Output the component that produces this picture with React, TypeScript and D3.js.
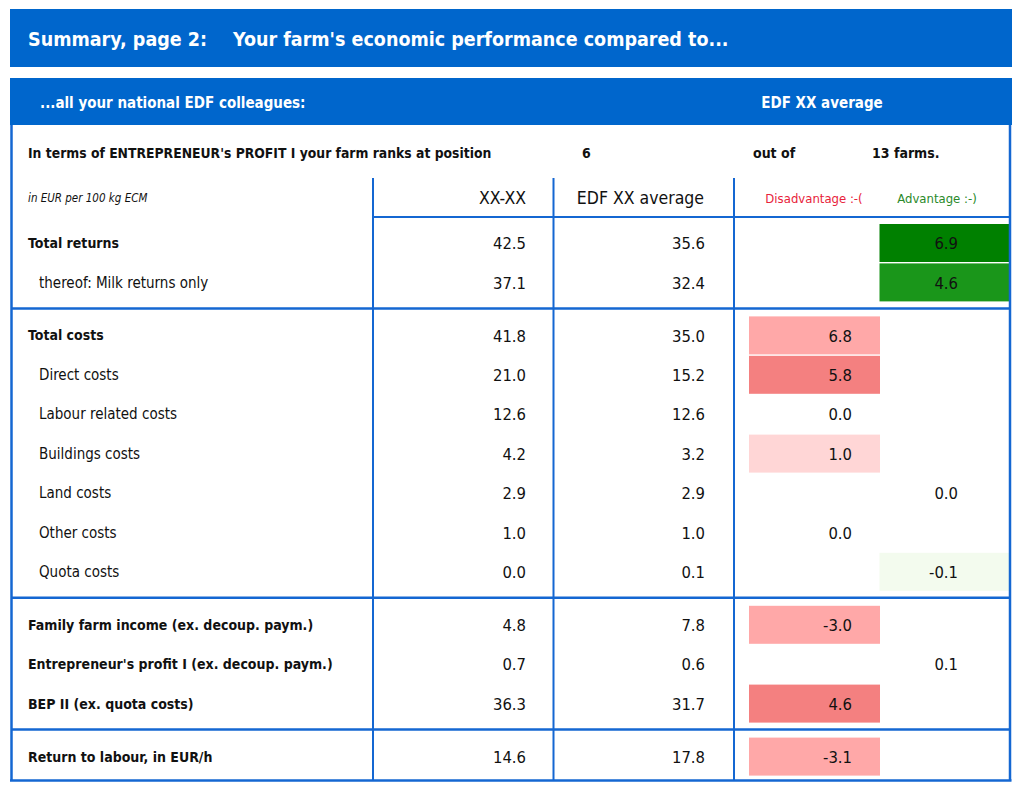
import React from "react";
import * as d3 from "d3";

const TITLE_A = "Summary, page 2:";
const TITLE_B = "Your farm's economic performance compared to...";
const SUBTITLE = "...all your national EDF colleagues:";
const SUB_RIGHT = "EDF XX average";
const RANK_TEXT = "In terms of ENTREPRENEUR's PROFIT I your farm ranks at position";
const RANK_POS = 6;
const RANK_TOTAL = 13;
const UNIT = "in EUR per 100 kg ECM";
const COL_HEADERS = ["XX-XX", "EDF XX average", "Disadvantage :-(", "Advantage :-)"];

const ROW_LABELS = [
  "Total returns",
  "thereof: Milk returns only",
  "Total costs",
  "Direct costs",
  "Labour related costs",
  "Buildings costs",
  "Land costs",
  "Other costs",
  "Quota costs",
  "Family farm income (ex. decoup. paym.)",
  "Entrepreneur's profit I (ex. decoup. paym.)",
  "BEP II (ex. quota costs)",
  "Return to labour, in EUR/h",
];
const ROW_GROUP = [0, 0, 1, 1, 1, 1, 1, 1, 1, 2, 2, 2, 3];
const ROW_SUB = [false, true, false, true, true, true, true, true, true, false, false, false, false];
const FARM_VALUES = [42.5, 37.1, 41.8, 21.0, 12.6, 4.2, 2.9, 1.0, 0.0, 4.8, 0.7, 36.3, 14.6];
const AVG_VALUES = [35.6, 32.4, 35.0, 15.2, 12.6, 3.2, 2.9, 1.0, 0.1, 7.8, 0.6, 31.7, 17.8];
const DIFF_VALUES = [6.9, 4.6, 6.8, 5.8, 0.0, 1.0, 0.0, 0.0, -0.1, -3.0, 0.1, 4.6, -3.1];
const DIFF_SIDE = ["adv", "adv", "dis", "dis", "dis", "dis", "adv", "dis", "adv", "dis", "adv", "dis", "dis"];
const DIFF_SHADE = [3, 2, 2, 3, 0, 1, 0, 0, 1, 2, 0, 3, 2];

const BLUE = "#0066CC";
const LINE = "#1467D2";
const FONT = "Tahoma, 'DejaVu Sans Condensed', 'DejaVu Sans', sans-serif";
const TXT = "#111";

export default function App() {
  const W = 1024, H = 788;
  const n = ROW_LABELS.length;
  const step = d3.scaleLinear().domain([0, n - 1]).range([243, 243 + (n - 1) * 39.4]);
  const groupGap = d3.scaleLinear().domain([0, 3]).range([0, 3 * 13.6]);
  const yRow = (i: number) => step(i) + groupGap(ROW_GROUP[i]);
  const disColor = d3.scaleOrdinal<number, string>().domain([0, 1, 2, 3]).range(["none", "#FFD6D6", "#FFA8A8", "#F48080"]);
  const advColor = d3.scaleOrdinal<number, string>().domain([0, 1, 2, 3]).range(["none", "#F3FBEE", "#1A961A", "#008000"]);
  const fmt = d3.formatLocale({ decimal: ".", thousands: ",", grouping: [3], currency: ["", ""], minus: "-" }).format(".1f");

  const frameL = 11.5, frameR = 1010, frameB = 780.5;
  const col1 = 373, col2 = 553.5, col3 = 734;
  const disX0 = 749, disX1 = 880, advX0 = 879.5, advX1 = 1009;

  const groupEnds: number[] = [];
  for (let i = 0; i < n - 1; i++) if (ROW_GROUP[i] !== ROW_GROUP[i + 1]) groupEnds.push(i);

  return (
    <svg width={W} height={H} style={{ position: "absolute", left: 0, top: 0, background: "#fff" }} fontFamily={FONT}>
      <rect x={10} y={9} width={1002} height={58} fill={BLUE} />
      <text x={28} y={46} fill="#fff" fontSize={19.5} fontWeight="bold">{TITLE_A}</text>
      <text x={233} y={46} fill="#fff" fontSize={19.5} fontWeight="bold">{TITLE_B}</text>

      <rect x={10} y={78} width={1002} height={47} fill={BLUE} />
      <text x={40} y={108} fill="#fff" fontSize={15} fontWeight="bold">{SUBTITLE}</text>
      <text x={822} y={108} fill="#fff" fontSize={15} fontWeight="bold" textAnchor="middle">{SUB_RIGHT}</text>

      <text x={28} y={158} fill={TXT} fontSize={13.8} fontWeight="bold">{RANK_TEXT}</text>
      <text x={582} y={158} fill={TXT} fontSize={14} fontWeight="bold">{RANK_POS}</text>
      <text x={753} y={158} fill={TXT} fontSize={14} fontWeight="bold">out of</text>
      <text x={872} y={158} fill={TXT} fontSize={14} fontWeight="bold">{RANK_TOTAL} farms.</text>

      <text x={28} y={202} fill={TXT} fontSize={11.5} fontStyle="italic">{UNIT}</text>
      <text x={526} y={204} fill={TXT} fontSize={17.5} textAnchor="end">{COL_HEADERS[0]}</text>
      <text x={704} y={204} fill={TXT} fontSize={17.5} textAnchor="end">{COL_HEADERS[1]}</text>
      <text x={814} y={203} fill="#E8223A" fontSize={13} textAnchor="middle">{COL_HEADERS[2]}</text>
      <text x={937} y={203} fill="#2A8A2A" fontSize={13} textAnchor="middle">{COL_HEADERS[3]}</text>

      {ROW_LABELS.map((lab, i) => {
        const y = yRow(i);
        const side = DIFF_SIDE[i];
        const shade = DIFF_SHADE[i];
        const fill = side === "dis" ? disColor(shade) : advColor(shade);
        const bx0 = side === "dis" ? disX0 : advX0;
        const bx1 = side === "dis" ? disX1 : advX1;
        return (
          <g key={lab}>
            {shade > 0 && <rect x={bx0} y={y - 19} width={bx1 - bx0} height={38} fill={fill} />}
            <text x={ROW_SUB[i] ? 39 : 28} y={y} dy="0.35em" fill={TXT} fontSize={ROW_SUB[i] ? 15 : 14} fontWeight={ROW_SUB[i] ? "normal" : "bold"}>{lab}</text>
            <text x={526} y={y} dy="0.38em" fill={TXT} fontSize={16.5} textAnchor="end">{fmt(FARM_VALUES[i])}</text>
            <text x={705} y={y} dy="0.38em" fill={TXT} fontSize={16.5} textAnchor="end">{fmt(AVG_VALUES[i])}</text>
            <text x={side === "dis" ? 852 : 958} y={y} dy="0.38em" fill={TXT} fontSize={16.5} textAnchor="end">{fmt(DIFF_VALUES[i])}</text>
          </g>
        );
      })}

      <g stroke={LINE} fill="none">
        <line x1={frameL} y1={125} x2={frameL} y2={frameB} strokeWidth={2.5} />
        <line x1={frameR} y1={125} x2={frameR} y2={frameB} strokeWidth={2.5} />
        <line x1={10} y1={frameB} x2={1011.5} y2={frameB} strokeWidth={2.5} />
        {[col1, col2, col3].map((x) => (
          <line key={x} x1={x} y1={178} x2={x} y2={frameB} strokeWidth={2} />
        ))}
        <line x1={col1} y1={217} x2={frameR} y2={217} strokeWidth={2} />
        {groupEnds.map((i) => (
          <line key={i} x1={frameL} y1={yRow(i) + 26} x2={frameR} y2={yRow(i) + 26} strokeWidth={2.5} />
        ))}
      </g>
    </svg>
  );
}
